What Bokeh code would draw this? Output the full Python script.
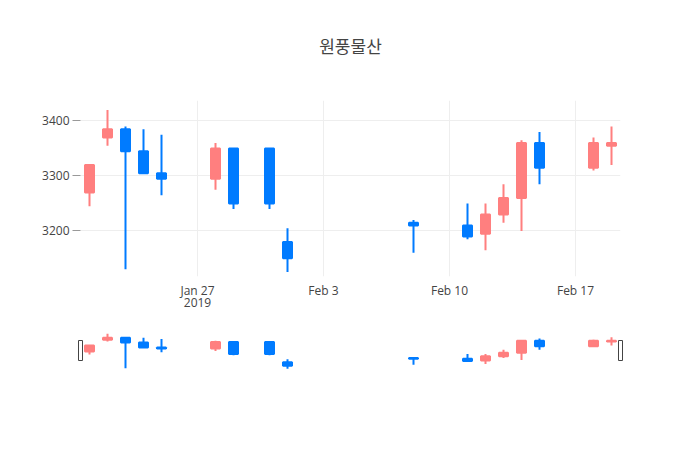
import pandas as pd
from bokeh.plotting import figure
from bokeh.models import ColumnDataSource, Range1d, FixedTicker, DatetimeAxis
from bokeh.layouts import column
from bokeh.embed import file_html
from bokeh.resources import INLINE

title_text = "원풍물산"
dates = ["2019-01-21", "2019-01-22", "2019-01-23", "2019-01-24", "2019-01-25",
         "2019-01-28", "2019-01-29", "2019-01-31", "2019-02-01", "2019-02-08",
         "2019-02-11", "2019-02-12", "2019-02-13", "2019-02-14", "2019-02-15",
         "2019-02-18", "2019-02-19"]
opens = [3270, 3370, 3385, 3345, 3305, 3295, 3350, 3350, 3180, 3215,
         3210, 3195, 3230, 3260, 3360, 3315, 3355]
highs = [3320, 3420, 3390, 3385, 3375, 3360, 3350, 3350, 3205, 3220,
         3250, 3250, 3285, 3365, 3380, 3370, 3390]
lows = [3245, 3355, 3130, 3305, 3265, 3275, 3240, 3240, 3125, 3160,
        3185, 3165, 3215, 3200, 3285, 3310, 3320]
closes = [3320, 3385, 3345, 3305, 3295, 3350, 3250, 3250, 3150, 3210,
          3190, 3230, 3260, 3360, 3315, 3360, 3360]
x_tick_dates = ["2019-01-27", "2019-02-03", "2019-02-10", "2019-02-17"]
x_tick_labels = ["Jan 27", "Feb 3", "Feb 10", "Feb 17"]
year_label = "2019"
y_ticks = [3200, 3300, 3400]

INC = "#FF7F7F"
DEC = "#007BFF"
FONT = "Open Sans"

dt = pd.to_datetime(dates)
day = pd.Timedelta(days=1)
src = ColumnDataSource(dict(
    x=dt,
    top=[max(o, c) for o, c in zip(opens, closes)],
    bottom=[min(o, c) for o, c in zip(opens, closes)],
    high=highs, low=lows,
    color=[INC if c > o else DEC for o, c in zip(opens, closes)],
))

xr = Range1d(start=dt.min() - day / 2, end=dt.max() + day / 2)
ymin, ymax = min(lows), max(highs)
span = ymax - ymin
yr_main = Range1d(start=ymin - span * 0.027, end=ymax + span * 0.058)
yr_slider = Range1d(start=ymin - span * 0.047, end=ymax + span * 0.09)

# --- title strip (figure with only a title) ---
t = figure(width=700, height=100, x_range=Range1d(0, 1), y_range=Range1d(0, 1),
           output_backend="svg", toolbar_location=None,
           min_border_left=80, min_border_right=80, min_border_top=0, min_border_bottom=0)
t.frame_align = False
t.outline_line_color = None
t.xaxis.visible = False
t.yaxis.visible = False
t.xgrid.visible = False
t.ygrid.visible = False
t.title.text = title_text
t.title.align = "center"
t.title.text_font = "Noto Sans CJK KR"
t.title.text_font_size = "17px"
t.title.text_font_style = "normal"
t.title.text_color = "#444444"
t.title.standoff = 61

# --- main candlestick chart ---
p = figure(width=700, height=230, x_axis_type="datetime", x_range=xr, y_range=yr_main,
           output_backend="svg", toolbar_location=None,
           min_border_left=80, min_border_right=80, min_border_top=0, min_border_bottom=54)
p.outline_line_color = None
p.frame_align = False

p.segment(x0="x", y0="low", x1="x", y1="high", source=src, line_color="color", line_width=2)
p.vbar(x="x", top="top", bottom="bottom", width=day * 0.5, source=src,
       fill_color="color", line_color="color", line_width=2)

tick_ms = [int(pd.Timestamp(d).value // 10**6) for d in x_tick_dates]
p.xaxis.ticker = FixedTicker(ticks=tick_ms)
p.xaxis.major_label_overrides = {t_: l for t_, l in zip(tick_ms, x_tick_labels)}
p.xaxis.major_label_standoff = 5

year_axis = DatetimeAxis(ticker=FixedTicker(ticks=tick_ms[:1]),
                         major_label_overrides={tick_ms[0]: year_label})
year_axis.major_label_standoff = -4
p.add_layout(year_axis, "below")

for ax in p.xaxis:
    ax.minor_tick_line_color = None
    ax.major_tick_line_color = None
    ax.major_tick_out = 0
    ax.major_tick_in = 0
    ax.axis_line_color = None

p.yaxis.ticker = FixedTicker(ticks=y_ticks)
p.yaxis.minor_tick_line_color = None
p.yaxis.axis_line_color = None
p.yaxis.major_tick_in = 0
p.yaxis.major_tick_out = 8
p.yaxis.major_tick_line_color = "#999999"
p.yaxis.major_label_standoff = 3

for ax in list(p.xaxis) + list(p.yaxis):
    ax.major_label_text_font = FONT
    ax.major_label_text_font_size = "12px"
    ax.major_label_text_color = "#444444"

p.xgrid.grid_line_color = "#eeeeee"
p.ygrid.grid_line_color = "#eeeeee"

# --- range slider (slightly wider frame so the handles at the range ends are not clipped) ---
px_per_day = 540 / ((xr.end - xr.start) / day)
pad = day * (4 / px_per_day)
xr_s = Range1d(start=xr.start - pad, end=xr.end + pad)
s = figure(width=700, height=80, x_axis_type="datetime", x_range=xr_s, y_range=yr_slider,
           output_backend="svg", toolbar_location=None,
           min_border_left=76, min_border_right=76, min_border_top=0, min_border_bottom=40)
s.outline_line_color = None
s.frame_align = False
s.xaxis.visible = False
s.yaxis.visible = False
s.xgrid.visible = False
s.ygrid.visible = False
s.segment(x0="x", y0="low", x1="x", y1="high", source=src, line_color="color", line_width=2)
s.vbar(x="x", top="top", bottom="bottom", width=day * 0.5, source=src,
       fill_color="color", line_color="color", line_width=2)
mid = (yr_slider.start + yr_slider.end) / 2
s.rect(x=[xr.start, xr.end], y=[mid, mid], width=4, height=20,
       width_units="screen", height_units="screen",
       fill_color="white", line_color="#444444", line_width=1)

layout = column(t, p, s, spacing=0)
open("out.html", "w").write(file_html(layout, INLINE))
